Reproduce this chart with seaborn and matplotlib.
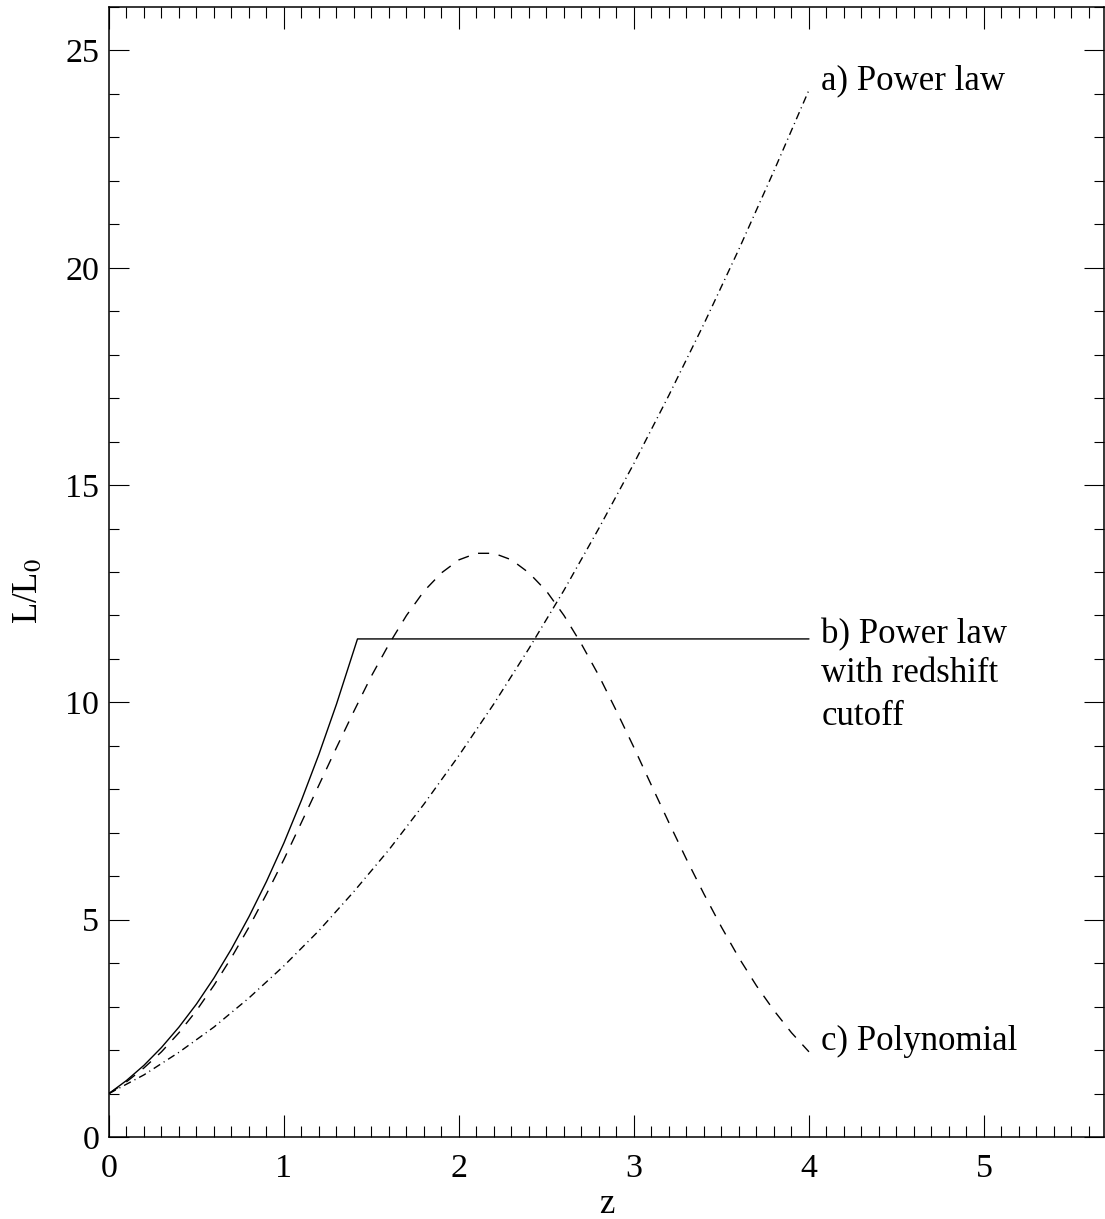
import matplotlib
matplotlib.use("Agg")
import matplotlib.pyplot as plt
import seaborn as sns
import pandas as pd
from matplotlib.ticker import MultipleLocator

# ---- data ----
z_power = [0.0, 0.2, 0.4, 0.6, 0.8, 1.0, 1.2, 1.4, 1.6, 1.8, 2.0,
           2.2, 2.4, 2.6, 2.8, 3.0, 3.2, 3.4, 3.6, 3.8, 4.0]
L_power = [1.00, 1.43, 1.95, 2.53, 3.20, 3.94, 4.75, 5.65, 6.61, 7.66, 8.78,
           9.97, 11.24, 12.58, 14.01, 15.50, 17.07, 18.71, 20.43, 22.23, 24.09]

z_cutoff = [0.0, 0.1, 0.2, 0.3, 0.4, 0.5, 0.6, 0.7, 0.8, 0.9, 1.0,
            1.1, 1.2, 1.3, 1.4, 1.42, 4.0]
L_cutoff = [1.00, 1.30, 1.65, 2.06, 2.53, 3.06, 3.66, 4.33, 5.07, 5.88, 6.77,
            7.75, 8.81, 9.96, 11.21, 11.46, 11.46]

z_poly = [0.0, 0.1, 0.2, 0.3, 0.4, 0.5, 0.6, 0.7, 0.8, 0.9, 1.0,
          1.1, 1.2, 1.3, 1.4, 1.5, 1.6, 1.7, 1.8, 1.9, 2.0,
          2.1, 2.2, 2.3, 2.4, 2.5, 2.6, 2.7, 2.8, 2.9, 3.0,
          3.1, 3.2, 3.3, 3.4, 3.5, 3.6, 3.7, 3.8, 3.9, 4.0]
L_poly = [1.00, 1.27, 1.59, 1.96, 2.40, 2.91, 3.49, 4.13, 4.83, 5.59, 6.39,
          7.24, 8.10, 8.96, 9.80, 10.61, 11.34, 12.00, 12.56, 12.98, 13.28,
          13.43, 13.43, 13.28, 12.98, 12.56, 12.00, 11.34, 10.61, 9.80, 8.96,
          8.09, 7.23, 6.39, 5.59, 4.83, 4.12, 3.48, 2.91, 2.40, 1.96]

x_ticks = [0, 1, 2, 3, 4, 5]
y_ticks = [0, 5, 10, 15, 20, 25]

labels_a = ["a) Power law"]
labels_b = ["b) Power law", "with redshift", "cutoff"]
labels_c = ["c) Polynomial"]

# ---- style ----
sns.set_theme(style="ticks")
plt.rcParams["font.family"] = ["Liberation Serif", "DejaVu Serif"]
plt.rcParams["mathtext.fontset"] = "stix"
plt.rcParams["text.color"] = "black"
plt.rcParams["axes.labelcolor"] = "black"
plt.rcParams["xtick.color"] = "black"
plt.rcParams["ytick.color"] = "black"

W, H = 1105, 1219
fig = plt.figure(figsize=(W / 100, H / 100), dpi=100)
ax = fig.add_axes([109 / W, 1 - 1137 / H, (1104 - 109) / W, (1137 - 7) / H])

df_a = pd.DataFrame({"z": z_power, "L": L_power})
df_b = pd.DataFrame({"z": z_cutoff, "L": L_cutoff})
df_c = pd.DataFrame({"z": z_poly, "L": L_poly})

sns.lineplot(data=df_a, x="z", y="L", sort=False, estimator=None,
             color="black", linewidth=1.0, ax=ax)
ax.lines[-1].set_dashes([5.5, 3.0, 0.8, 3.0])
sns.lineplot(data=df_b, x="z", y="L", sort=False, estimator=None,
             color="black", linewidth=1.0, ax=ax)
sns.lineplot(data=df_c, x="z", y="L", sort=False, estimator=None,
             color="black", linewidth=1.0, ax=ax)
ax.lines[-1].set_dashes([8.0, 7.0])

ax.set_xlim(0, 5.686)
ax.set_ylim(0, 26)
ax.set_xticks(x_ticks)
ax.set_yticks(y_ticks)
ax.set_xticklabels([str(t) for t in x_ticks])
ax.set_yticklabels([str(t) for t in y_ticks])
ax.xaxis.set_minor_locator(MultipleLocator(0.1))
ax.yaxis.set_minor_locator(MultipleLocator(1))

ax.tick_params(which="both", direction="in", top=True, right=True,
               labeltop=False, labelright=False, width=0.8, labelsize=24.5)
ax.tick_params(axis="x", which="major", length=16, pad=12)
ax.tick_params(axis="x", which="minor", length=8)
ax.tick_params(axis="y", which="major", length=14.5, pad=7)
ax.tick_params(axis="y", which="minor", length=7)
for s in ax.spines.values():
    s.set_linewidth(1.1)
    s.set_color("black")

ax.set_xlabel("z", fontsize=25)
ax.set_ylabel("L/L$_0$", fontsize=25)
ax.xaxis.label.set_verticalalignment("baseline")
ax.xaxis.set_label_coords(0.5, (1137 - 1213) / 1130)
ax.yaxis.label.set_verticalalignment("baseline")
ax.yaxis.set_label_coords((37 - 109) / 995, (1137 - 591) / 1130)

tx = 4.07
fs = 25
ax.text(tx, 24.11, labels_a[0], fontsize=fs, va="baseline", ha="left")
for lab, yv in zip(labels_b, [11.37, 10.47, 9.48]):
    ax.text(tx, yv, lab, fontsize=fs, va="baseline", ha="left")
ax.text(tx, 2.0, labels_c[0], fontsize=fs, va="baseline", ha="left")

fig.savefig("out.png", dpi=100)
